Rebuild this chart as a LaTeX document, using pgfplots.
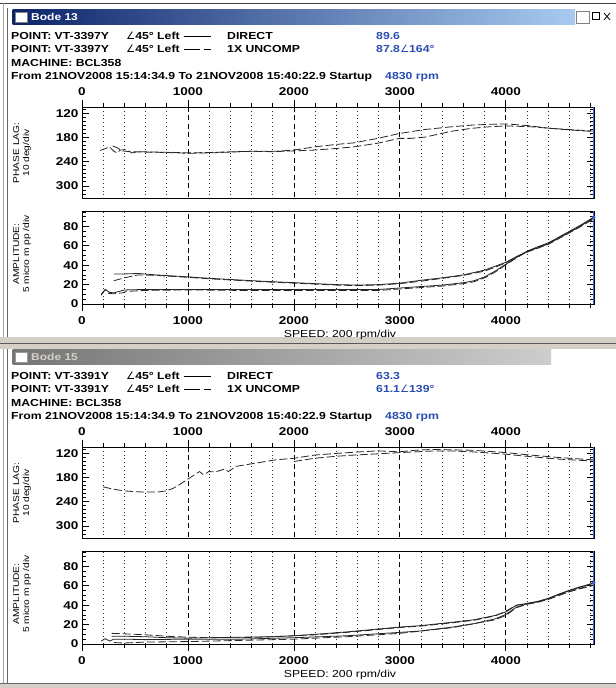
\documentclass[border=0pt]{standalone}
\usepackage{pgfplots}
\pgfplotsset{compat=1.18}
\usepackage{fontspec}
\setmainfont{Liberation Sans}
\newfontfamily\winfont[FakeStretch=1.2]{Liberation Sans}
\newfontfamily\djv{DejaVu Sans}
\definecolor{valblue}{RGB}{40,78,178}
\definecolor{cursorblue}{RGB}{70,100,210}
\definecolor{navyA}{RGB}{12,36,106}
\definecolor{navyB}{RGB}{168,202,240}
\definecolor{winface}{RGB}{212,208,200}
\definecolor{grayA}{RGB}{118,118,118}
\definecolor{grayB}{RGB}{205,205,205}

\pgfplotsset{
  bode/.style={
    scale only axis, width=512.3bp, xmin=0, xmax=4835, clip=false,
    axis line style={black, line width=0.9bp},
    every tick/.style={black, line width=0.8bp},
    major tick length=7bp, minor tick length=4bp,
    ytick pos=both, yticklabel pos=left,
    ytick align=inside, xtick align=outside,
    xtick={0,1000,2000,3000,4000},
    xticklabels={0,1000,2000,3000,4000},
    minor xtick={200,400,600,800,1200,1400,1600,1800,2200,2400,2600,2800,3200,3400,3600,3800,4200,4400,4600,4800},
    xmajorgrids, xminorgrids,
    major grid style={black, line width=0.8bp, dash pattern=on 5bp off 3.5bp},
    minor grid style={black!80, line width=0.8bp, dash pattern=on 0.8bp off 3bp},
    tick label style={font=\winfont\bfseries\fontsize{11.3bp}{13bp}\selectfont},
    /pgf/number format/assume math mode=true,
  },
  phase/.style={bode, height=91bp, ymin=104, ymax=330, y dir=reverse,
    ytick={120,180,240,300}, minor ytick={110,120,...,330},
    xtick pos=right, xticklabel pos=right,
    xticklabel style={yshift=1bp}},
  amp/.style={bode, height=93bp, ymin=0, ymax=96,
    ytick={0,20,40,60,80}, minor ytick={5,10,...,95},
    xtick pos=left, xticklabel pos=left,
    xticklabel style={yshift=-2.5bp}},
  solidc/.style={black!85, line width=0.8bp},
  dashc/.style={black!85, line width=0.8bp, dash pattern=on 8bp off 3bp},
}

\newcommand\hfont{\winfont\bfseries\fontsize{10.2bp}{12bp}\selectfont}
% #1 offset, #2 title, #3 point, #4 direct value, #5 1x amp, #6 1x phase
\newcommand\panelhead[6]{%
  \node[anchor=base west, inner sep=0, font=\hfont] at (11,{688-40-#1}) {POINT: #3};
  \node[anchor=base west, inner sep=0, font=\hfont] at (11,{688-53-#1}) {POINT: #3};
  \node[anchor=base west, inner sep=0, font=\hfont] at (126,{688-40-#1}) {{\djv\mdseries ∠}45° Left};
  \node[anchor=base west, inner sep=0, font=\hfont] at (126,{688-53-#1}) {{\djv\mdseries ∠}45° Left};
  \draw[black, line width=1bp] (184,{688-36.5-#1}) -- (211,{688-36.5-#1});
  \draw[black, line width=1bp] (184,{688-49.5-#1}) -- (200,{688-49.5-#1}) (204,{688-49.5-#1}) -- (211,{688-49.5-#1});
  \node[anchor=base west, inner sep=0, font=\hfont] at (227,{688-40-#1}) {DIRECT};
  \node[anchor=base west, inner sep=0, font=\hfont] at (227,{688-53-#1}) {1X UNCOMP};
  \node[anchor=base west, inner sep=0, font=\hfont, text=valblue] at (376,{688-40-#1}) {#4};
  \node[anchor=base west, inner sep=0, font=\hfont, text=valblue] at (376,{688-53-#1}) {#5{\djv\mdseries ∠}#6°};
  \node[anchor=base west, inner sep=0, font=\hfont] at (11,{688-66.5-#1}) {MACHINE: BCL358};
  \node[anchor=base west, inner sep=0, font=\hfont] at (11,{688-79.5-#1}) {From 21NOV2008 15:14:34.9 To 21NOV2008 15:40:22.9 Startup};
  \node[anchor=base west, inner sep=0, font=\hfont, text=valblue] at (385,{688-79.5-#1}) {4830 rpm};
  \node[rotate=90, align=center, font=\winfont\fontsize{8.5bp}{10bp}\selectfont] at (22,{688-153-#1}) {PHASE LAG:\\10 deg/div};
  \node[rotate=90, align=center, font=\winfont\fontsize{8.5bp}{10bp}\selectfont] at (22,{688-254-#1}) {AMPLITUDE:\\5 micro m pp /div};
  \node[font=\winfont\fontsize{10.2bp}{12bp}\selectfont] at (340,{688-335-#1}) {SPEED: 200 rpm/div};
}

\begin{document}
\begin{tikzpicture}[x=1bp,y=1bp]
\useasboundingbox (0,0) rectangle (616,688);
\fill[white] (0,0) rectangle (616,688);
% window frames
\draw[black!75, line width=1bp] (0,684.5) -- (616,684.5);
\draw[black!35, line width=1bp] (3.5,0) -- (3.5,684.5);
\draw[black!60, line width=1bp] (7.5,0) -- (7.5,680);
% panel 1 title bar
\shade[left color=navyA, right color=navyB] (12.5,{688-24.5}) rectangle (575,{688-9.5});
\fill[white, draw=black!50] (15,{688-22}) rectangle (27,{688-12});
\node[anchor=base west, inner sep=0, font=\winfont\bfseries\fontsize{10bp}{12bp}\selectfont, text=white] at (31,{688-21}) {Bode 13};
\draw[black!50, fill=white] (576,{688-23}) rectangle (589,{688-11});
\draw[black, line width=1bp] (592,{688-20}) rectangle (599,{688-13});
\draw[black, line width=0.8bp] (604,{688-20}) -- (610,{688-13}) (604,{688-13}) -- (610,{688-20});
% separator between panels
\fill[winface] (0,{688-349}) rectangle (616,{688-337});
\draw[black!65, line width=1bp] (0,{688-343.5}) -- (616,{688-343.5});
% panel 2 title bar
\shade[left color=grayA, right color=grayB] (12.5,{688-364.5}) rectangle (551,{688-349.5});
\fill[white, draw=black!40] (15,{688-362}) rectangle (27,{688-352});
\node[anchor=base west, inner sep=0, font=\winfont\bfseries\fontsize{10bp}{12bp}\selectfont, text=winface] at (31,{688-361}) {Bode 15};
% bottom border
\fill[winface] (0,0) rectangle (616,4);
\draw[black!60, line width=1bp] (0,4.5) -- (616,4.5);

\panelhead{0}{Bode 13}{VT-3397Y}{89.6}{87.8}{164}
\panelhead{340}{Bode 15}{VT-3391Y}{63.3}{61.1}{139}

% ===== Panel 1 phase =====
\begin{axis}[phase, at={(82bp,490bp)}, anchor=south west]
\addplot[dashc] coordinates {(170,212) (215,208) (260,203) (300,214) (330,218) (360,211) (420,210) (470,218) (530,215) (700,216) (900,217) (1000,218) (1200,217) (1455,215) (1600,214) (1826,214) (2000,211) (2196,203) (2400,197) (2567,193) (2790,182) (2993,170) (3233,160) (3493,153) (3678,149) (3850,147) (4007,146) (4196,150) (4419,157) (4600,160) (4830,164)};
\addplot[dashc] coordinates {(290,201) (330,205) (380,213) (450,215) (600,216) (800,217) (1000,219) (1200,218) (1400,216) (1600,214) (1800,215) (2000,213) (2196,211) (2400,207) (2567,203) (2790,194) (2993,182) (3100,182) (3233,179) (3493,164) (3678,157) (3850,153) (4007,151) (4233,153) (4419,157) (4600,161) (4830,165)};
\draw[cursorblue, line width=1.3bp] (axis cs:4830,104) -- (axis cs:4830,330) -- ++(0,-13bp);
\end{axis}

% ===== Panel 1 amplitude =====
\begin{axis}[amp, at={(82bp,384bp)}, anchor=south west]
\addplot[solidc] coordinates {(300,31) (400,31) (530,31.5) (700,30) (1000,28) (1200,26.5) (1450,25) (1700,23.5) (2000,22) (2200,21) (2400,20) (2600,19.5) (2800,20) (3000,21.5) (3200,24.5) (3400,27) (3600,30) (3800,35) (3900,39) (4000,43) (4100,49) (4200,54) (4300,58) (4400,62) (4500,68) (4600,74) (4700,80) (4830,89.6)};
\addplot[dashc] coordinates {(300,24) (400,27) (530,30) (700,29.5) (1000,27.5) (1200,26) (1450,24.5) (1700,23) (2000,21.5) (2200,20.5) (2400,19.5) (2600,19) (2800,19.5) (3000,21) (3200,23.5) (3400,26.5) (3600,29.5) (3800,34) (3900,38) (4000,42.5) (4100,48.5) (4200,53.5) (4300,57.5) (4400,61.5) (4500,67.5) (4600,73.5) (4700,79.5) (4830,87.8)};
\addplot[solidc] coordinates {(180,9) (220,15) (260,12) (300,11.5) (350,13) (400,14.5) (600,15) (1000,15) (1500,15) (2000,15) (2500,15) (2800,15) (3000,16.5) (3200,18) (3400,19.5) (3600,22) (3700,24) (3800,28) (3900,34) (4000,41) (4100,48) (4200,54.5) (4300,59) (4400,63) (4500,69) (4600,75) (4700,81) (4830,89.6)};
\addplot[dashc] coordinates {(180,10) (220,15) (250,11) (300,10.5) (380,11.5) (420,13) (600,14) (1000,14.5) (1500,14) (2000,14) (2500,14) (2800,14) (3000,15.5) (3200,17) (3400,18.5) (3600,21) (3700,23) (3800,27) (3900,33) (4000,40.5) (4100,47.5) (4200,54) (4300,58.5) (4400,62.5) (4500,68.5) (4600,74.5) (4700,80.5) (4830,88.5)};
\draw[cursorblue, line width=1.3bp] (axis cs:4830,0) -- (axis cs:4830,96);
\addplot[only marks, mark=*, mark size=1.6bp, cursorblue] coordinates {(4830,89.6)};
\end{axis}

% ===== Panel 2 phase =====
\begin{axis}[phase, at={(82bp,150bp)}, anchor=south west]
\addplot[dashc] coordinates {(200,203) (300,209) (400,213) (500,215) (600,216) (715,216) (789,213) (850,208) (900,201) (1004,183) (1085,169) (1110,165) (1140,172) (1170,170) (1196,165) (1260,166) (1307,162) (1344,159) (1380,165) (1456,152) (1640,144) (1826,136) (2000,132) (2196,124) (2400,120) (2567,117) (2790,113.5) (2993,116) (3150,112) (3307,110) (3500,111) (3678,112) (3850,115) (4000,118) (4233,124) (4493,130) (4830,136)};
\addplot[dashc] coordinates {(2000,140) (2196,132) (2400,127) (2567,124) (2790,121) (2993,118) (3307,114) (3500,114) (3678,116) (3850,119) (4000,122) (4233,128) (4493,134) (4830,139)};
\draw[cursorblue, line width=1.3bp] (axis cs:4830,104) -- (axis cs:4830,330) -- ++(0,-13bp);
\end{axis}

% ===== Panel 2 amplitude =====
\begin{axis}[amp, at={(82bp,44bp)}, anchor=south west]
\addplot[solidc] coordinates {(280,8) (400,8) (600,7.5) (800,6.5) (1000,6) (1200,6.5) (1500,7) (1800,7.5) (2000,8.5) (2200,10) (2500,12.5) (2800,15.5) (3000,17.5) (3200,19) (3500,22.5) (3700,25) (3900,29.5) (4000,33) (4100,40) (4200,42) (4300,44) (4400,47) (4500,51) (4600,55) (4700,58.5) (4830,63.3)};
\addplot[dashc] coordinates {(280,11) (400,10.5) (600,9.5) (800,8) (1000,7) (1200,6.5) (1500,6.5) (1800,7.5) (2000,8.5) (2200,9.5) (2500,12) (2800,15) (3000,17) (3200,18.5) (3500,22) (3700,24.5) (3900,29) (4000,34) (4100,40) (4200,41.5) (4300,43.5) (4400,46.5) (4500,50.5) (4600,54) (4700,57.5) (4830,61.1)};
\addplot[solidc] coordinates {(180,3) (220,5.5) (260,3) (300,5) (400,5) (600,4.5) (1000,5) (1500,5) (2000,6.5) (2500,8.5) (3000,12) (3200,13.5) (3500,17.5) (3700,21) (3900,26) (4000,30.5) (4100,38) (4200,41.5) (4300,43.5) (4400,47) (4500,51.5) (4600,55.5) (4700,59) (4830,62.5)};
\addplot[dashc] coordinates {(300,1.5) (400,1) (600,2) (1000,2.5) (1400,3.5) (1800,4.5) (2000,5) (2500,7.5) (3000,11) (3500,17) (3900,25) (4000,29.5) (4100,37.5) (4200,41) (4300,43) (4400,46) (4500,50) (4600,54) (4700,57) (4830,60.5)};
\draw[cursorblue, line width=1.3bp] (axis cs:4830,0) -- (axis cs:4830,96);
\addplot[only marks, mark=*, mark size=1.6bp, cursorblue] coordinates {(4830,63.3)};
\end{axis}
\end{tikzpicture}
\end{document}
